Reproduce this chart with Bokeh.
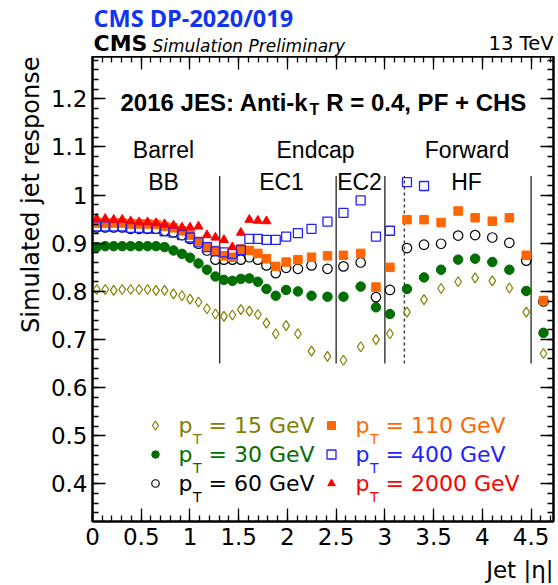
import math
from bokeh.plotting import figure
from bokeh.layouts import column
from bokeh.models import Range1d, LinearAxis, SingleIntervalTicker, Label, Title, CustomJSTickFormatter
from bokeh.embed import file_html
from bokeh.resources import INLINE

# ---------------- data ----------------
eta = [0.0435, 0.1305, 0.2175, 0.3045, 0.3915, 0.4785, 0.5655, 0.6525, 0.7395, 0.831,
       0.918, 1.0005, 1.0875, 1.1745, 1.2615, 1.3485, 1.4355, 1.5225, 1.6095, 1.6965,
       1.785, 1.88, 1.9865, 2.1075, 2.247, 2.411, 2.575, 2.7515, 2.9085, 3.0515,
       3.2265, 3.4015, 3.5765, 3.7515, 3.926, 4.102, 4.277, 4.4505, 4.627]

resp_pt15 = [0.804, 0.804, 0.802, 0.804, 0.804, 0.804, 0.804, 0.802, 0.802, 0.795,
             0.791, 0.784, 0.778, 0.764, 0.753, 0.748, 0.751, 0.762, 0.759, 0.752,
             0.734, 0.712, 0.729, 0.712, 0.676, 0.665, 0.657, 0.685, 0.700, 0.712,
             0.757, 0.783, 0.806, 0.820, 0.828, 0.822, 0.807, 0.757, 0.671]
resp_pt30 = [0.892, 0.894, 0.894, 0.894, 0.894, 0.894, 0.894, 0.894, 0.892, 0.885,
             0.878, 0.870, 0.858, 0.845, 0.831, 0.824, 0.822, 0.826, 0.827, 0.820,
             0.805, 0.791, 0.803, 0.800, 0.791, 0.789, 0.789, 0.810, 0.767, 0.753,
             0.805, 0.829, 0.845, 0.866, 0.868, 0.861, 0.845, 0.801, 0.714]
resp_pt60 = [0.933, 0.933, 0.933, 0.933, 0.930, 0.930, 0.930, 0.930, 0.926, 0.923,
             0.917, 0.909, 0.899, 0.885, 0.866, 0.866, 0.866, 0.866, 0.871, 0.866,
             0.854, 0.838, 0.849, 0.847, 0.854, 0.847, 0.852, 0.860, 0.788, 0.803,
             0.890, 0.897, 0.899, 0.916, 0.917, 0.912, 0.901, 0.864, 0.779]
resp_pt110 = [0.942, 0.942, 0.942, 0.942, 0.940, 0.940, 0.940, 0.939, 0.935, 0.932,
              0.926, 0.917, 0.904, 0.893, 0.885, 0.874, 0.871, 0.888, 0.885, 0.879,
              0.868, 0.852, 0.861, 0.866, 0.871, 0.874, 0.875, 0.879, 0.809, 0.850,
              0.949, 0.949, 0.943, 0.967, 0.953, 0.946, 0.953, 0.875, 0.781]
resp_pt400 = [0.935, 0.935, 0.935, 0.935, 0.932, 0.932, 0.931, 0.930, 0.925, 0.922,
              0.917, 0.912, 0.902, 0.892, 0.883, 0.881, 0.878, 0.886, 0.909, 0.909,
              0.907, 0.907, 0.914, 0.921, 0.930, 0.945, 0.963, 0.989, 0.914, 0.926,
              1.027, 1.019]
resp_pt2000 = [0.951, 0.951, 0.949, 0.949, 0.946, 0.944, 0.944, 0.942, 0.940, 0.937,
               0.933, 0.933, 0.935, 0.917, 0.912, 0.907, 0.892, 0.922, 0.949, 0.947,
               0.946]

region_edges = [1.305, 2.5, 3.0, 4.5]
hf_edge = [3.2]
edge_span = (0.65, 1.04)

x_ticks_interval = 0.5
y_ticks_interval = 0.1

# ---------------- geometry ----------------
X0, X1 = 0.0, 4.73
Y0, Y1 = 0.322, 1.288
HDR_H = 56
FW, FH = 461, 465
BL, BT, BR, BB = 92, 0, 5, 34
FOOT_H = 585 - HDR_H - BT - FH - BB
FL, FT = BL, HDR_H + BT          # frame left / top in page pixels
FONT = "DejaVu Sans"
MID = 0.35                       # cap centre above baseline, in em


def dx(sx):
    return X0 + (sx - FL) / FW * (X1 - X0)


def dy(sy):
    return Y1 - (sy - FT) / FH * (Y1 - Y0)


def strip(height, y_top):
    f = figure(width=BL + FW + BR, height=height, x_range=Range1d(BL, BL + FW),
               y_range=Range1d(y_top + height, y_top), output_backend="svg",
               toolbar_location=None,
               min_border_left=BL, min_border_right=BR, min_border_top=0, min_border_bottom=0,
               x_axis_type=None, y_axis_type=None,
               outline_line_color=None, background_fill_color="white",
               border_fill_color="white")
    f.title.visible = False
    return f


def add_text(fig, x, y_base, text, size, color="black", font=FONT, style="normal", align="left"):
    fig.add_layout(Label(x=x, y=y_base, text=text, text_font=font,
                         text_font_size=f"{size}px", text_color=color,
                         text_font_style=style, text_align=align,
                         text_baseline="middle"))


# ---------------- header strip (page pixel coordinates) ----------------
hdr = strip(HDR_H, 0)
add_text(hdr, 93, 26 - MID * 23.5, "CMS DP-2020/019", 23.5, color="#1034f0", font="Open Sans", style="bold")
add_text(hdr, 93, 51 - MID * 22, "CMS", 22, style="bold")
add_text(hdr, 152, 51 - MID * 17, "Simulation Preliminary", 17, style="italic")
add_text(hdr, 553, 50 - MID * 19.5, "13 TeV", 19.5, align="right")

# ---------------- footer strip ----------------
foot_top = HDR_H + BT + FH + BB
foot = strip(FOOT_H, foot_top)
add_text(foot, 553, 578 - MID * 23, "Jet |\u03b7|", 23, align="right")

# ---------------- main plot ----------------
p = figure(frame_width=FW, frame_height=FH,
           x_range=Range1d(X0, X1), y_range=Range1d(Y0, Y1),
           output_backend="svg", toolbar_location=None,
           min_border_left=BL, min_border_right=BR,
           min_border_top=BT, min_border_bottom=BB,
           background_fill_color="white", border_fill_color="white")
p.title.visible = False
p.xgrid.visible = False
p.ygrid.visible = False
p.outline_line_color = "black"
p.outline_line_width = 2

fmt = CustomJSTickFormatter(code="return (Math.round(tick*10)/10).toString();")


def style_axis(ax, labels):
    ax.axis_line_width = 2
    ax.axis_line_color = "black"
    ax.major_tick_in = 13
    ax.major_tick_out = 0
    ax.minor_tick_in = 6
    ax.minor_tick_out = 0
    ax.major_tick_line_width = 1.3
    ax.minor_tick_line_width = 1.3
    ax.major_label_text_font = FONT
    ax.formatter = fmt
    if labels:
        ax.major_label_text_font_size = "23px"
        ax.major_label_text_color = "black"
    else:
        ax.major_label_text_font_size = "0px"
        ax.major_label_text_color = None
        ax.major_label_standoff = 0


xax = p.xaxis[0]
xax.ticker = SingleIntervalTicker(interval=x_ticks_interval, num_minor_ticks=5)
style_axis(xax, True)
xax.major_label_standoff = 6
yax = p.yaxis[0]
yax.ticker = SingleIntervalTicker(interval=y_ticks_interval, num_minor_ticks=5)
style_axis(yax, True)
yax.major_label_standoff = 5

top = LinearAxis(ticker=SingleIntervalTicker(interval=x_ticks_interval, num_minor_ticks=5))
style_axis(top, False)
p.add_layout(top, "above")
right = LinearAxis(ticker=SingleIntervalTicker(interval=y_ticks_interval, num_minor_ticks=5))
style_axis(right, False)
p.add_layout(right, "right")

# y axis title (side-panel title so it is not clipped)
p.add_layout(Title(text="Simulated jet response", align="right", text_font=FONT,
                   text_font_size="24px", text_font_style="normal", text_color="black",
                   standoff=6), "left")

# detector boundaries
p.segment(x0=region_edges, y0=[edge_span[0]] * len(region_edges),
          x1=region_edges, y1=[edge_span[1]] * len(region_edges),
          line_color="#333333", line_width=1.4)
p.segment(x0=hf_edge, y0=[edge_span[0]], x1=hf_edge, y1=[edge_span[1]],
          line_color="#333333", line_width=1.4, line_dash="3 3")

OLIVE = "#808000"
GREEN = "#006e00"
ORANGE = "#ff6600"
BLUE = "#2222ff"
RED = "#ff0000"

series = [
    (resp_pt15, dict(marker="diamond", size=10, line_color=OLIVE, fill_color=None, line_width=1.2)),
    (resp_pt30, dict(marker="circle", size=9.5, line_color=GREEN, fill_color=GREEN, line_width=1)),
    (resp_pt60, dict(marker="circle", size=9.5, line_color="black", fill_color=None, line_width=1.2)),
    (resp_pt110, dict(marker="square", size=8.5, line_color=ORANGE, fill_color=ORANGE, line_width=1)),
    (resp_pt400, dict(marker="square", size=9, line_color=BLUE, fill_color=None, line_width=1.3)),
    (resp_pt2000, dict(marker="triangle", size=9, line_color=RED, fill_color=RED, line_width=1)),
]
for vals, kw in series:
    p.scatter(x=eta[:len(vals)], y=vals, **kw)


def label(sx, sy, text, size, color="black", font=FONT, style="normal", align="left"):
    # sx, sy: page pixel position of the text baseline
    add_text(p, dx(sx), dy(sy - MID * size), text, size, color=color, font=font,
             style=style, align=align)


# title inside frame
HS = 24
x_start = 120
w1 = 7.836 * HS
label(x_start, 110, "2016 JES: Anti-k", HS, font="Liberation Sans", style="bold")
label(x_start + w1 + 1, 115, "T", 16, font="Liberation Sans", style="bold")
label(x_start + w1 + 11 + 0.278 * HS, 110, "R = 0.4, PF + CHS", HS, font="Liberation Sans", style="bold")

# region labels
RS = 23
label(163, 158, "Barrel", RS, font="Liberation Sans", align="center")
label(163, 190, "BB", RS, font="Liberation Sans", align="center")
label(315, 158, "Endcap", RS, font="Liberation Sans", align="center")
label(281, 190, "EC1", RS, font="Liberation Sans", align="center")
label(359, 190, "EC2", RS, font="Liberation Sans", align="center")
label(466.5, 158, "Forward", RS, font="Liberation Sans", align="center")
label(466, 190, "HF", RS, font="Liberation Sans", align="center")

# legend
leg_labels = ["15", "30", "60", "110", "400", "2000"]
leg_colors = [OLIVE, GREEN, "black", ORANGE, BLUE, RED]
leg_rows = [433, 462, 491]
leg_cols = [(155, 178), (331, 355)]
leg_mk = [
    dict(marker="diamond", size=9, line_color=OLIVE, fill_color=None, line_width=1.2),
    dict(marker="circle", size=7.5, line_color=GREEN, fill_color=GREEN),
    dict(marker="circle", size=7.5, line_color="black", fill_color=None, line_width=1.2),
    dict(marker="square", size=8, line_color=ORANGE, fill_color=ORANGE),
    dict(marker="square", size=9, line_color=BLUE, fill_color=None, line_width=1.3),
    dict(marker="triangle", size=7.5, line_color=RED, fill_color=RED),
]
for i, (lab, col, mk) in enumerate(zip(leg_labels, leg_colors, leg_mk)):
    mx, tx = leg_cols[i // 3]
    by = leg_rows[i % 3]
    p.scatter(x=[dx(mx)], y=[dy(by - 8)], **mk)
    label(tx, by, "p", 22, color=col)
    label(tx + 14.5, by + 10, "T", 14, color=col)
    label(tx + 30, by, f"= {lab} GeV", 22, color=col)

layout = column(hdr, p, foot, spacing=0)
open("out.html", "w").write(file_html(layout, INLINE))
